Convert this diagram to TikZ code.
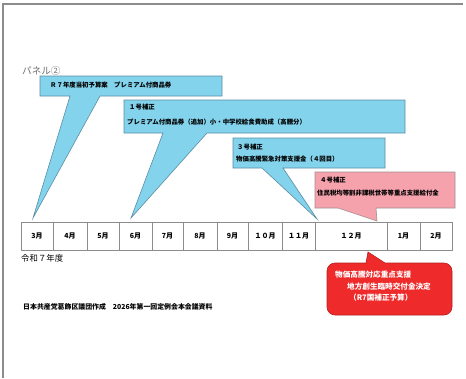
\documentclass[tikz,border=0pt]{standalone}
\usepackage{fontspec}
\newfontfamily\jp{Noto Sans CJK JP}
\definecolor{cblue}{HTML}{83D3EC}
\definecolor{cbluedk}{HTML}{5C8EA3}
\definecolor{cpink}{HTML}{F5A2AD}
\definecolor{cpinkdk}{HTML}{A08E92}
\definecolor{cred}{HTML}{EE2A2A}
\definecolor{creddk}{HTML}{B52020}
\definecolor{framegray}{HTML}{8C8C8C}
\definecolor{txtgray}{HTML}{6E6E6E}
\begin{document}
\begin{tikzpicture}[x=1pt,y=-1pt,
  bluecall/.style={fill=cblue,draw=cbluedk,line width=0.6pt,line join=miter},
  pinkcall/.style={fill=cpink,draw=cpinkdk,line width=0.6pt},
  redcall/.style={fill=cred,draw=creddk,line width=0.6pt},
  ctext/.style={anchor=west,inner sep=0pt,font=\jp\bfseries\fontsize{6.4}{7}\selectfont,text=black},
  cell/.style={draw=framegray,line width=0.7pt,minimum height=28pt,inner sep=0pt,font=\jp\bfseries\fontsize{7}{8}\selectfont},
  wtext/.style={anchor=west,inner sep=0pt,font=\jp\bfseries\fontsize{7.6}{9}\selectfont,text=white}]
\useasboundingbox (0,0) rectangle (466,378);
\fill[white] (0,0) rectangle (466,378);
% frame
\draw[framegray,line width=1.4pt] (3,378) -- (3,4) -- (463,4);
% title
\node[anchor=west,inner sep=0pt,text=txtgray,font=\jp\fontsize{9.6}{11}\selectfont] (panel) at (22,71) {パネル②};
% callout 1
\draw[bluecall] (40,76) -- (222,76) -- (222,96) -- (100,96) -- (33,218) -- (70,96) -- (40,96) -- cycle;
\node[ctext] (t1) at (50,85) {Ｒ７年度当初予算案　プレミアム付商品券};
% callout 2
\draw[bluecall] (124,100) -- (405,100) -- (405,133) -- (207,133) -- (131,218) -- (163,133) -- (124,133) -- cycle;
\node[ctext] (t2a) at (129,107) {１号補正};
\node[ctext] (t2b) at (127,122) {プレミアム付商品券（追加）小・中学校給食費助成（高騰分）};
% callout 3
\draw[bluecall] (233,138) -- (385,138) -- (385,168) -- (283,168) -- (317,219) -- (262,168) -- (233,168) -- cycle;
\node[ctext] (t3a) at (237,147) {３号補正};
\node[ctext] (t3b) at (236,159) {物価高騰緊急対策支援金（４回目）};
% callout 4
\draw[pinkcall] (315,172) -- (455,172) -- (455,208) -- (376,208) -- (377,221) -- (338,208) -- (315,208) -- cycle;
\node[ctext] (t4a) at (320,180) {４号補正};
\node[ctext] (t4b) at (317,193) {住民税均等割非課税世帯等重点支援給付金};
% timeline
\node[cell,minimum width=32pt] (m3) at (37,236) {3月};
\node[cell,minimum width=34pt] (m4) at (70,236) {4月};
\node[cell,minimum width=32pt] (m5) at (103,236) {5月};
\node[cell,minimum width=33pt] (m6) at (135.5,236) {6月};
\node[cell,minimum width=31pt] (m7) at (167.5,236) {7月};
\node[cell,minimum width=34pt] (m8) at (200,236) {8月};
\node[cell,minimum width=31pt] (m9) at (232.5,236) {9月};
\node[cell,minimum width=34pt] (m10) at (265,236) {１０月};
\node[cell,minimum width=33pt] (m11) at (298.5,236) {１１月};
\node[cell,minimum width=72pt] (m12) at (351,236) {１２月};
\node[cell,minimum width=33pt] (m1) at (403.5,236) {1月};
\node[cell,minimum width=32pt] (m2) at (436,236) {2月};
\node[anchor=west,inner sep=0pt,font=\jp\fontsize{8.4}{10}\selectfont] (year) at (21,258) {令和７年度};
% red callout
\draw[redcall] (368,252) -- (385,263) [rounded corners=8pt] -- (452,263) -- (452,315) -- (327,315) -- (327,263) [sharp corners] -- (366,263) -- cycle;
\node[wtext] (r1) at (335,275) {物価高騰対応重点支援};
\node[wtext] (r2) at (347,287) {地方創生臨時交付金決定};
\node[wtext] (r3) at (349,298) {（R7国補正予算）};
% footer
\node[anchor=west,inner sep=0pt,font=\jp\bfseries\fontsize{6.9}{8}\selectfont] (foot) at (23,307) {日本共産党葛飾区議団作成　2026年第一回定例会本会議資料};
\end{tikzpicture}
\end{document}
